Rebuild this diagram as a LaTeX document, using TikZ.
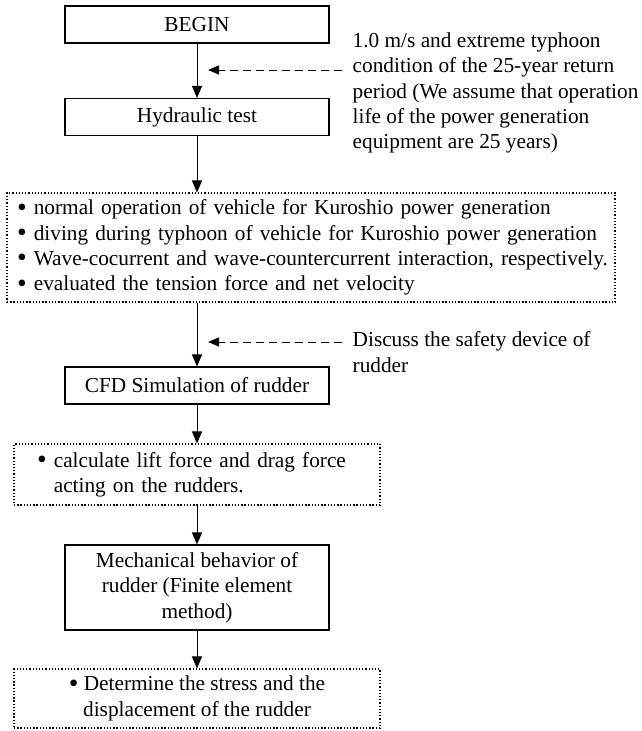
\documentclass[tikz,border=0pt]{standalone}
\usepackage{fontspec}
\setmainfont{Liberation Serif}
\usetikzlibrary{arrows.meta}
\newcommand\bulletdot{\raisebox{-0.07em}{\scalebox{1.3}{\textbullet}}}
\begin{document}
\begin{tikzpicture}[x=1pt,y=-1pt,
  every node/.style={font=\fontsize{21.3}{25.3}\selectfont, inner sep=0pt},
  solidbox/.style={draw, line width=1.1pt, minimum width=264pt, minimum height=37pt},
  dotbox/.style={draw, line width=1.1pt, dash pattern=on 1.3pt off 1.9pt},
  flow/.style={-{Triangle[length=12pt,width=10pt]}, line width=1pt},
  hint/.style={-{Triangle[length=11pt,width=9pt]}, line width=1pt, dash pattern=on 8pt off 5pt},
  note/.style={align=left, anchor=north west}]
\useasboundingbox (0,0) rectangle (641,731);

\node[solidbox] (begin) at (197,24.5) {BEGIN};
\node[solidbox] (hyd) at (197,117) {Hydraulic test};
\node[dotbox, minimum width=608pt, minimum height=109pt, text width=588pt, align=left] (d1) at (311,247.5)
 {\bulletdot\ normal operation of vehicle for Kuroshio power generation\\
  \bulletdot\ diving during typhoon of vehicle for Kuroshio power generation\\
  \makebox[\linewidth][l]{\bulletdot\ Wave-cocurrent and wave-countercurrent interaction, respectively.}\\
  \bulletdot\ evaluated the tension force and net velocity};
\node[solidbox] (cfd) at (197,385.5) {CFD Simulation of rudder};
\node[dotbox, minimum width=366pt, minimum height=61pt, text width=320pt, align=left] (d2) at (197,474.5)
 {\bulletdot\ calculate lift force and drag force\\
  \hphantom{\bulletdot\ }acting on the rudders.};
\node[solidbox, minimum height=85pt, align=center] (mech) at (197,587.5)
 {Mechanical behavior of\\ rudder (Finite element\\ method)};
\node[dotbox, minimum width=366pt, minimum height=59pt, align=center] (d3) at (197,698.5)
 {\bulletdot\ Determine the stress and the\\ displacement of the rudder};

\node[note] (n1) at (352.5,32.5)
 {1.0 m/s and extreme typhoon\\
  condition of the 25-year return\\
  period (We assume that operation\\
  life of the power generation\\
  equipment are 25 years)};
\node[note] (n2) at (352.5,331.5)
 {Discuss the safety device of\\ rudder};

\coordinate (h1s) at (342,70);
\coordinate (h1e) at (208,70);
\coordinate (h2s) at (342,342);
\coordinate (h2e) at (208,342);

\draw[flow] (begin) -- (hyd);
\draw[flow] (hyd.south) -- (hyd.south |- d1.north);
\draw[flow] (d1.south -| cfd) -- (cfd.north);
\draw[flow] (cfd) -- (d2);
\draw[flow] (d2) -- (mech);
\draw[flow] (mech) -- (d3);
\draw[hint] (h1s) -- (h1e);
\draw[hint] (h2s) -- (h2e);
\end{tikzpicture}
\end{document}
